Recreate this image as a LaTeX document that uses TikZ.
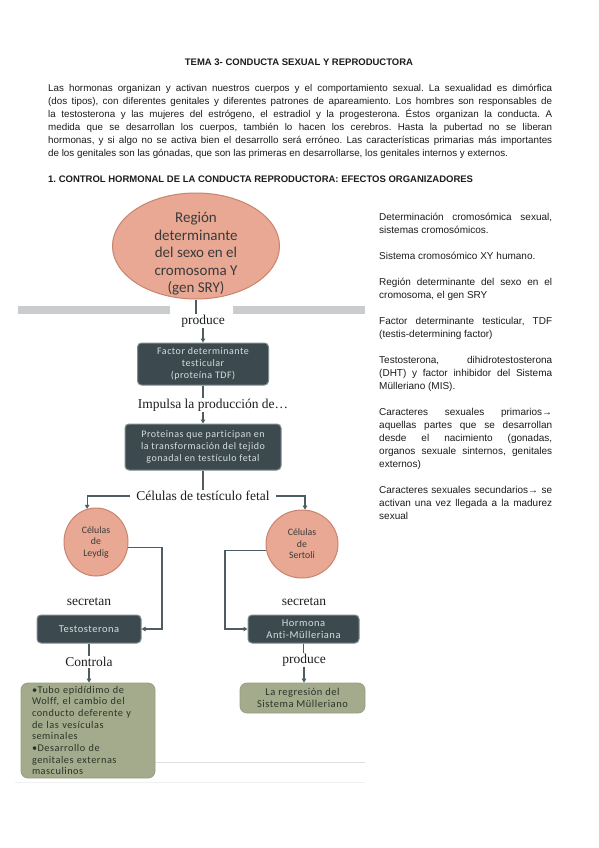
\documentclass[tikz,border=0pt]{standalone}
\usepackage{fontspec}
\setmainfont{Liberation Sans}
\newfontfamily\calfont[Ligatures=NoCommon]{Carlito}
\newfontfamily\boxfont[LetterSpace=5,Ligatures=NoCommon]{Carlito}
\newfontfamily\serfont{Liberation Serif}
\usetikzlibrary{shapes.geometric,arrows.meta}
\definecolor{salF}{HTML}{E8A893}
\definecolor{salE}{HTML}{C9846F}
\definecolor{darkF}{HTML}{3C4A50}
\definecolor{darkE}{HTML}{7E8B8F}
\definecolor{boxT}{HTML}{D6DDDE}
\definecolor{greenF}{HTML}{A3AB8C}
\definecolor{greenE}{HTML}{979F80}
\definecolor{greenT}{HTML}{2B3329}
\definecolor{connC}{HTML}{4F5D62}
\definecolor{barC}{HTML}{C9CDCD}
\definecolor{ellT}{HTML}{3A3A3A}
\definecolor{labT}{HTML}{1E1E1E}
\definecolor{bodyT}{HTML}{1C1C1C}
\newcommand\jl[1]{\makebox[\linewidth][s]{#1}}
\frenchspacing
\begin{document}
\begin{tikzpicture}[x=1pt,y=-1pt,
  conn/.style={draw=connC, line width=1.1pt},
  arr/.style={conn, -{Triangle[length=4pt,width=4.5pt]}},
  darkbox/.style={draw=darkE, fill=darkF, rounded corners=4pt, line width=1pt, text=boxT,
    font=\boxfont\fontsize{10}{12}\selectfont, align=center, inner sep=0pt},
  greenbox/.style={draw=greenE, fill=greenF, rounded corners=7pt, line width=0.8pt, text=greenT,
    font=\boxfont\fontsize{10.3}{11.7}\selectfont, inner sep=0pt},
  cell/.style={ellipse, draw=salE, fill=salF, line width=1pt, inner sep=0pt, text=ellT,
    font=\calfont\fontsize{9.8}{11.5}\selectfont, align=center},
  lab/.style={font=\serfont\fontsize{13.5}{15}\selectfont, text=labT, inner sep=1pt},
  faint/.style={draw=#1, line width=1pt}
]
\path[use as bounding box, fill=white] (0,0) rectangle (599,848);

% ---------- text ----------
\node[anchor=base, inner sep=0, text=bodyT, font=\bfseries\fontsize{9.5}{11}\selectfont] (title) at (299,66)
  {TEMA 3- CONDUCTA SEXUAL Y REPRODUCTORA};

\node[anchor=base west, inner sep=0, text=bodyT] (para) at (48,92) {\parbox[t]{504pt}{\fontsize{9.8}{13}\selectfont
\jl{Las hormonas organizan y activan nuestros cuerpos y el comportamiento sexual. La sexualidad es dimórfica}\\
\jl{(dos tipos), con diferentes genitales y diferentes patrones de apareamiento. Los hombres son responsables de}\\
\jl{la testosterona y las mujeres del estrógeno, el estradiol y la progesterona. Éstos organizan la conducta. A}\\
\jl{medida que se desarrollan los cuerpos, también lo hacen los cerebros. Hasta la pubertad no se liberan}\\
\jl{hormonas, y si algo no se activa bien el desarrollo será erróneo. Las características primarias más importantes}\\
de los genitales son las gónadas, que son las primeras en desarrollarse, los genitales internos y externos.}};

\node[anchor=base west, inner sep=0, text=bodyT, font=\bfseries\fontsize{9.5}{11}\selectfont] (head) at (48,182)
  {1. CONTROL HORMONAL DE LA CONDUCTA REPRODUCTORA: EFECTOS ORGANIZADORES};

\node[anchor=base west, inner sep=0, text=bodyT] (side) at (379,220.5) {\parbox[t]{173pt}{\fontsize{10}{13}\selectfont
\jl{Determinación cromosómica sexual,}\\
sistemas cromosómicos.\\[13pt]
Sistema cromosómico XY humano.\\[13pt]
\jl{Región determinante del sexo en el}\\
cromosoma, el gen SRY\\[13pt]
\jl{Factor determinante testicular, TDF}\\
(testis-determining factor)\\[13pt]
\jl{Testosterona, dihidrotestosterona}\\
\jl{(DHT) y factor inhibidor del Sistema}\\
Mülleriano (MIS).\\[13pt]
\jl{Caracteres sexuales primarios→}\\
\jl{aquellas partes que se desarrollan}\\
\jl{desde el nacimiento (gonadas,}\\
\jl{organos sexuale sinternos, genitales}\\
externos)\\[13pt]
\jl{Caracteres sexuales secundarios→ se}\\
\jl{activan una vez llegada a la madurez}\\
sexual}};

% ---------- diagram ----------
\fill[barC] (18,306) rectangle (170,314);
\fill[barC] (233,306) rectangle (365,314);
\draw[faint=gray!25] (155,762) -- (365,762);
\draw[faint=gray!12] (15,782) -- (365,782);

\node[ellipse, draw=salE, fill=salF, line width=1pt, minimum width=167pt, minimum height=106pt, inner sep=0] (sry) at (196,246) {};
\node[font=\calfont\fontsize{15}{17.5}\selectfont, text=ellT, align=center, inner sep=0] (srytxt) at (196,254)
  {Región\\determinante\\del sexo en el\\cromosoma Y\\(gen SRY)};

\node[lab] (prod1) at (203,321) {produce};
\node[darkbox, minimum width=131pt, minimum height=42pt] (tdf) at (203,364) {Factor determinante\\testicular\\(proteína TDF)};
\node[lab] (imp) at (213,405) {Impulsa la producción de…};
\node[darkbox, minimum width=156pt, minimum height=46pt] (prot) at (203,447)
  {Proteinas que participan en\\la transformación del tejido\\gonadal en testículo fetal};
\node[lab, inner xsep=6pt] (cel) at (203,496) {Células de testículo fetal};

\node[cell, minimum width=64pt, minimum height=68pt] (leydig) at (96,542) {Células\\de\\Leydig};
\node[cell, minimum width=72pt, minimum height=68pt] (sertoli) at (302,544) {Células\\de\\Sertoli};

\node[lab] (sec1) at (89,602) {secretan};
\node[lab] (sec2) at (304,602) {secretan};

\node[darkbox, minimum width=104pt, minimum height=28pt, font=\boxfont\fontsize{10.5}{12}\selectfont] (testo) at (89,629) {Testosterona};
\node[darkbox, minimum width=111pt, minimum height=28pt, font=\boxfont\fontsize{10.5}{11.5}\selectfont] (horm) at (303.5,629) {Hormona\\Anti-Mülleriana};

\node[lab] (ctrl) at (89,662) {Controla};
\node[lab] (prod2) at (304,660) {produce};

\node[greenbox, text width=112pt, inner xsep=11pt, minimum height=95pt, align=left] (wolff) at (88,730.5)
  {•Tubo epidídimo de\\Wolff, el cambio del\\conducto deferente y\\de las vesículas\\seminales\\•Desarrollo de\\genitales externas\\masculinos};
\node[greenbox, minimum width=125pt, minimum height=30pt, align=center, font=\boxfont\fontsize{10.5}{12}\selectfont] (regr) at (302.5,698)
  {La regresión del\\Sistema Mülleriano};

\coordinate (lc) at (162,629);
\coordinate (sc) at (225,629);

% ---------- connectors ----------
\draw[conn] (sry.south) -- (sry.south |- prod1.north);
\draw[arr] (prod1.south) -- (tdf.north);
\draw[conn] (tdf.south) -- (tdf.south |- imp.north);
\draw[arr] (imp.south -| prot.north) -- (prot.north);
\draw[conn] (prot.south) -- (prot.south |- cel.north);
\draw[arr] (cel.west) -| (leydig.105);
\draw[arr] (cel.east) -| (sertoli.85);
\draw[arr] (leydig.-10) -| (lc) -- (testo.east);
\draw[arr] (sertoli.190) -| (sc) -- (horm.west);
\draw[conn] (testo.south) -- (testo.south |- ctrl.north);
\draw[arr] (ctrl.south) -- (ctrl.south |- wolff.north);
\draw[conn] (horm.south) -- (horm.south |- prod2.north);
\draw[arr] (prod2.south) -- (prod2.south |- regr.north);
\end{tikzpicture}
\end{document}
